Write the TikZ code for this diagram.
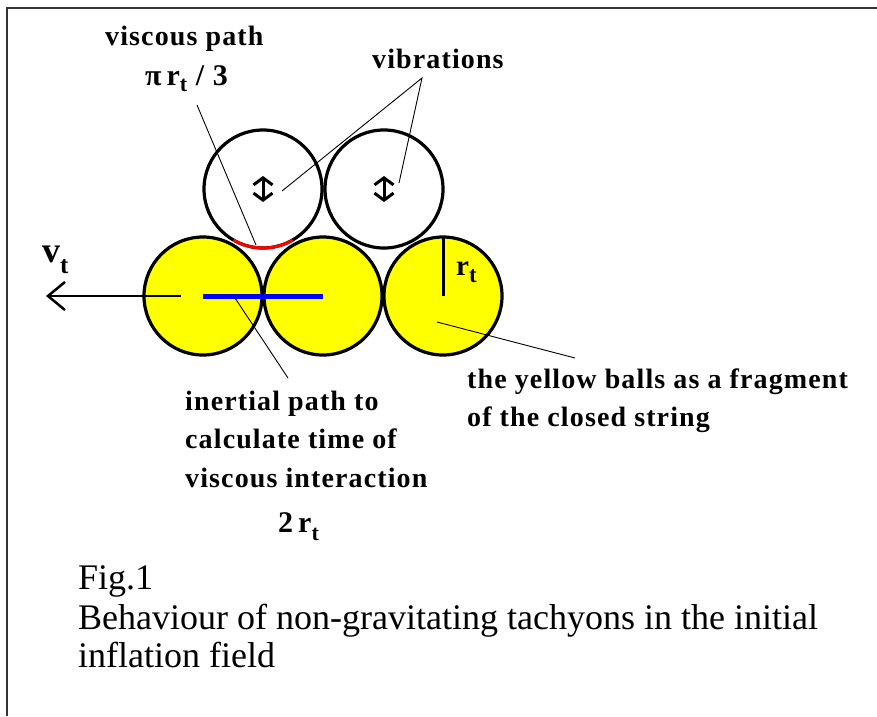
\documentclass[tikz,border=0pt]{standalone}
\usepackage{fontspec}
\setmainfont{Liberation Serif}
\newfontfamily\lblfont{Liberation Serif}[LetterSpace=4]
\usetikzlibrary{arrows.meta}
\definecolor{ballyellow}{RGB}{255,255,0}
\definecolor{arcred}{RGB}{255,0,0}
\definecolor{pathblue}{RGB}{0,0,255}
\newcommand\subtx[2]{\raisebox{-#1}{\fontsize{#2}{#2}\selectfont t}}
\begin{document}
\begin{tikzpicture}[x=1pt,y=-1pt,
  lbl/.style={inner sep=0, anchor=base west, font=\lblfont\bfseries\fontsize{28}{30}\selectfont},
  captext/.style={inner sep=0, anchor=base west, font=\fontsize{36}{40}\selectfont},
  ball/.style={circle, draw=black, line width=3.2pt, fill=ballyellow, minimum size=118pt, inner sep=0, outer sep=0},
  wball/.style={ball, fill=white},
  leader/.style={line width=0.9pt},
  vib/.style={line width=3pt, {Straight Barb[length=7pt,width=19pt]}-{Straight Barb[length=7pt,width=19pt]}},
]
\useasboundingbox (0,0) rectangle (877,716);
\fill[white] (0,0) rectangle (877,716);
\draw[line width=2.5pt, black!80] (877,8) -- (7,8) -- (7,716);

% balls
\node[wball] (w1) at (263,189) {};
\node[wball] (w2) at (384,189) {};
\node[ball] (y1) at (203,296) {};
\node[ball] (y2) at (323,296) {};
\node[ball] (y3) at (443,296) {};

% viscous arc and inertial path
\draw[line width=3pt, arcred] (w1.240) arc[start angle=240, end angle=300, radius=59pt];
\draw[line width=5pt, pathblue] (y1.center) -- (y2.center);

% radius
\draw[line width=3pt] (y3.center) -- (y3.north);

% velocity arrow
\coordinate (vs) at (181,296);
\coordinate (ve) at (46,296);
\draw[line width=2.5pt, -{Straight Barb[length=17pt,width=28pt]}] (vs) -- (ve);

% vibrations
\draw[vib] ([yshift=13pt]w1.center) -- ([yshift=-13pt]w1.center);
\draw[vib] ([yshift=13pt]w2.center) -- ([yshift=-13pt]w2.center);

% leader coordinates
\coordinate (lv1) at (197,105);
\coordinate (lv2) at (256,245);
\coordinate (la) at (422,78);
\coordinate (la1) at (282,191);
\coordinate (la2) at (399,183);
\coordinate (li1) at (235,298);
\coordinate (li2) at (288,378);
\coordinate (ly1) at (437,322);
\coordinate (ly2) at (575,358);
\draw[leader] (lv1) -- (lv2);
\draw[leader] (la1) -- (la) -- (la2);
\draw[leader] (li1) -- (li2);
\draw[leader] (ly1) -- (ly2);

% labels
\node[lbl] (tvp) at (105,45) {viscous path};
\node[lbl, font=\lblfont\bfseries\fontsize{30}{30}\selectfont] (tpi) at (145,85) {π\,r\subtx{6pt}{22} / 3};
\node[lbl] (tvib) at (372,68) {vibrations};
\node[lbl, font=\bfseries\fontsize{36}{40}\selectfont] (tv) at (42,262) {v\subtx{11pt}{25}};
\node[lbl, font=\bfseries\fontsize{29}{30}\selectfont] (tr) at (456,275) {r\subtx{7pt}{23}};
\node[lbl] (ti1) at (185,410) {inertial path to};
\node[lbl] (ti2) at (185,448) {calculate time of};
\node[lbl] (ti3) at (185,487) {viscous interaction};
\node[lbl, font=\lblfont\bfseries\fontsize{30}{30}\selectfont] (t2r) at (278,532) {2\,r\subtx{8pt}{22}};
\node[lbl] (ty1) at (467,388) {the yellow balls as a fragment};
\node[lbl] (ty2) at (467,426) {of the closed string};
\node[captext] (c1) at (78,589) {Fig.1};
\node[captext] (c2) at (78,629) {Behaviour of non-gravitating tachyons in the initial};
\node[captext] (c3) at (78,667) {inflation field};
\end{tikzpicture}
\end{document}
